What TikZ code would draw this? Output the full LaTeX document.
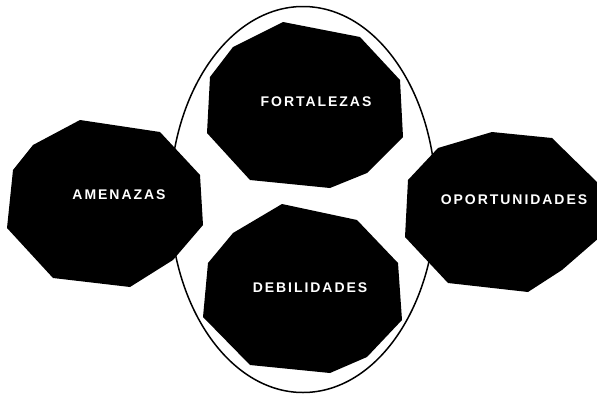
\documentclass[tikz,border=0pt]{standalone}
\usepackage{fontspec}
\setsansfont{Liberation Sans}
\begin{document}
\begin{tikzpicture}[x=1pt,y=-1pt,
  blob/.style={fill=black},
  oval/.style={draw=black,line width=1.5pt},
  lbl/.style={text=white,inner sep=0pt,font=\sffamily\bfseries\fontsize{14}{16}\selectfont\addfontfeature{LetterSpace=14}}]
\useasboundingbox (0,0) rectangle (597,394);
\draw[oval] (303,199.5) ellipse [x radius=133pt, y radius=193pt];
% AMENAZAS
\fill[blob] (80,120) -- (160,132) -- (200,175) -- (203,225) -- (173,260) -- (130,287) -- (53,278) -- (7,228) -- (13,170) -- (33,145) -- cycle;
% FORTALEZAS
\fill[blob] (283,22) -- (360,37) -- (400,80) -- (403,137) -- (367,173) -- (330,188) -- (250,180) -- (207,133) -- (210,77) -- (233,47) -- cycle;
% DEBILIDADES
\fill[blob] (282,204) -- (357,220) -- (398,263) -- (402,320) -- (367,357) -- (330,373) -- (250,365) -- (203,317) -- (208,263) -- (233,233) -- cycle;
% OPORTUNIDADES
\fill[blob] (492,132) -- (552,138) -- (600,185) -- (600,237) -- (562,270) -- (528,292) -- (448,283) -- (405,237) -- (408,180) -- (438,148) -- cycle;
\node[lbl] (amen) at (119,195) {AMENAZAS};
\node[lbl] (fort) at (316,102) {FORTALEZAS};
\node[lbl] (debi) at (310,288) {DEBILIDADES};
\node[lbl] (opor) at (514,200) {OPORTUNIDADES};
\end{tikzpicture}
\end{document}
